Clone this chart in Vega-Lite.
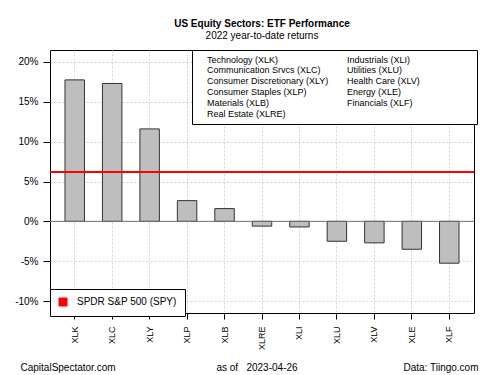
{
  "$schema": "https://vega.github.io/schema/vega-lite/v6.json",
  "width": 424,
  "height": 263,
  "autosize": {"type": "none"},
  "padding": {"left": 50, "top": 50, "right": 26, "bottom": 62},
  "background": "white",
  "title": {
    "text": "US Equity Sectors: ETF Performance",
    "subtitle": "2022 year-to-date returns",
    "font": "Liberation Sans",
    "fontSize": 10,
    "fontWeight": "bold",
    "color": "black",
    "subtitleFont": "Liberation Sans",
    "subtitleFontSize": 10,
    "subtitleColor": "black",
    "subtitlePadding": 2,
    "anchor": "middle",
    "offset": 9
  },
  "config": {
    "view": {"stroke": "black", "strokeWidth": 1},
    "font": "Liberation Sans",
    "axis": {"domain": false}
  },
  "resolve": {"scale": {"y": "shared"}, "axis": {"y": "independent"}},
  "layer": [
    {
      "data": {
        "values": [
          {"ticker": "XLK", "name": "Technology (XLK)", "ret": 17.75},
          {"ticker": "XLC", "name": "Communication Srvcs (XLC)", "ret": 17.3},
          {"ticker": "XLY", "name": "Consumer Discretionary (XLY)", "ret": 11.6},
          {"ticker": "XLP", "name": "Consumer Staples (XLP)", "ret": 2.6},
          {"ticker": "XLB", "name": "Materials (XLB)", "ret": 1.6},
          {"ticker": "XLRE", "name": "Real Estate (XLRE)", "ret": -0.6},
          {"ticker": "XLI", "name": "Industrials (XLI)", "ret": -0.7},
          {"ticker": "XLU", "name": "Utilities (XLU)", "ret": -2.5},
          {"ticker": "XLV", "name": "Health Care (XLV)", "ret": -2.7},
          {"ticker": "XLE", "name": "Energy (XLE)", "ret": -3.5},
          {"ticker": "XLF", "name": "Financials (XLF)", "ret": -5.25}
        ]
      },
      "mark": {"type": "bar", "stroke": "#333333", "strokeWidth": 1},
      "encoding": {
        "x": {
          "field": "ticker",
          "type": "nominal",
          "sort": ["XLK", "XLC", "XLY", "XLP", "XLB", "XLRE", "XLI", "XLU", "XLV", "XLE", "XLF"],
          "scale": {"paddingInner": 0.48, "paddingOuter": 0.4},
          "axis": {
            "title": "as of \u00a0 2023-04-26",
            "titleFont": "Liberation Sans",
            "titleFontSize": 10,
            "titleFontWeight": "normal",
            "titleColor": "black",
            "titleX": 206.5,
            "titleY": 54,
            "titleAlign": "center",
            "titleBaseline": "middle",
            "labelAngle": -90,
            "labelAlign": "right",
            "labelBaseline": "middle",
            "labelFontSize": 9,
            "labelColor": "black",
            "labelPadding": 7,
            "tickSize": 6,
            "tickColor": "black",
            "grid": true,
            "bandPosition": 0.5,
            "gridColor": "#d3d3d3",
            "gridDash": [2, 2]
          }
        },
        "y": {
          "field": "ret",
          "type": "quantitative",
          "scale": {"domain": [-11.5, 21.5], "nice": false},
          "axis": {
            "values": [-10, -5, 0, 5, 10, 15, 20],
            "labelExpr": "datum.value + '%'",
            "labelFontSize": 10,
            "labelColor": "black",
            "labelPadding": 5,
            "tickSize": 7,
            "tickColor": "black",
            "grid": true,
            "gridColor": "#d3d3d3",
            "gridDash": [2, 2],
            "title": "CapitalSpectator.com",
            "titleAngle": 0,
            "titleX": -30,
            "titleY": 317,
            "titleAlign": "left",
            "titleBaseline": "middle",
            "titleFont": "Liberation Sans",
            "titleFontSize": 10,
            "titleFontWeight": "normal",
            "titleColor": "black"
          }
        },
        "fill": {
          "field": "name",
          "type": "nominal",
          "scale": {
            "domain": ["Technology (XLK)", "Communication Srvcs (XLC)", "Consumer Discretionary (XLY)", "Consumer Staples (XLP)", "Materials (XLB)", "Real Estate (XLRE)", "Industrials (XLI)", "Utilities (XLU)", "Health Care (XLV)", "Energy (XLE)", "Financials (XLF)"],
            "range": ["#bebebe", "#bebebe", "#bebebe", "#bebebe", "#bebebe", "#bebebe", "#bebebe", "#bebebe", "#bebebe", "#bebebe", "#bebebe"]
          },
          "legend": {
            "title": "\u00a0",
            "titleOrient": "right",
            "titlePadding": 52,
            "titleFontSize": 9,
            "orient": "none",
            "legendX": 142,
            "legendY": 0,
            "columns": 2,
            "gridAlign": "all",
            "columnPadding": 8,
            "rowPadding": 0.8,
            "padding": 5,
            "symbolSize": 0,
            "symbolOpacity": 0,
            "symbolStrokeWidth": 0,
            "labelOffset": 1,
            "labelFontSize": 9,
            "labelColor": "black",
            "labelLimit": 300,
            "strokeColor": "black",
            "fillColor": "white"
          }
        }
      }
    },
    {
      "data": {"values": [{"ret": 0}]},
      "mark": {"type": "rule", "color": "#707070", "strokeWidth": 1},
      "encoding": {
        "y": {"field": "ret", "type": "quantitative", "axis": null}
      }
    },
    {
      "data": {"values": [{"series": "SPDR S&P 500 (SPY)", "ret": 6.2}]},
      "mark": {"type": "rule", "strokeWidth": 2},
      "encoding": {
        "y": {
          "field": "ret",
          "type": "quantitative",
          "axis": {
            "orient": "right",
            "labels": false,
            "ticks": false,
            "grid": false,
            "title": "Data: Tiingo.com",
            "titleAngle": 0,
            "titleX": 4,
            "titleY": 317,
            "titleAlign": "right",
            "titleBaseline": "middle",
            "titleFont": "Liberation Sans",
            "titleFontSize": 10,
            "titleFontWeight": "normal",
            "titleColor": "black"
          }
        },
        "color": {
          "field": "series",
          "type": "nominal",
          "scale": {"range": ["#ff0000"]},
          "legend": {
            "title": null,
            "orient": "none",
            "legendX": 0,
            "legendY": 239,
            "padding": 8,
            "symbolType": "square",
            "symbolSize": 64,
            "labelOffset": 9,
            "labelFontSize": 10,
            "labelColor": "black",
            "strokeColor": "black",
            "fillColor": "white",
            "encode": {"symbols": {"update": {"fill": {"value": "#ff0000"}, "stroke": {"value": "#000000"}, "strokeWidth": {"value": 1}}}}
          }
        }
      }
    }
  ]
}
